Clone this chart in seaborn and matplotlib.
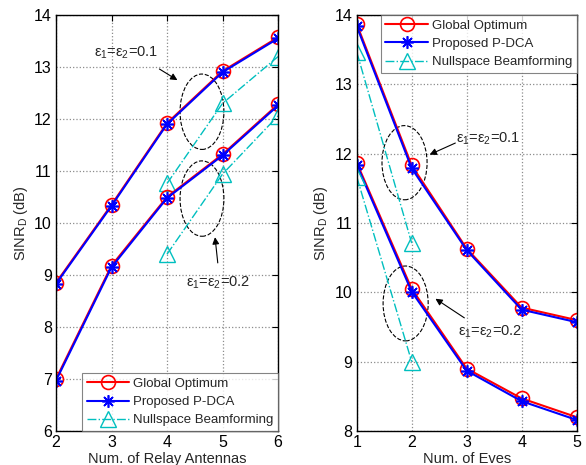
import numpy as np
import pandas as pd
import seaborn as sns
import matplotlib.pyplot as plt
from matplotlib.patches import Ellipse

# Left panel: SINR vs number of relay antennas
antennas = [2, 3, 4, 5, 6]
glob_a_01 = [8.85, 10.35, 11.92, 12.92, 13.57]
pdca_a_01 = [8.83, 10.33, 11.90, 12.90, 13.55]
glob_a_02 = [7.00, 9.18, 10.50, 11.32, 12.28]
pdca_a_02 = [6.97, 9.15, 10.48, 11.30, 12.26]
null_antennas = [4, 5, 6]
null_a_01 = [10.76, 12.30, 13.20]
null_a_02 = [9.40, 10.94, 12.06]

# Right panel: SINR vs number of eves
eves = [1, 2, 3, 4, 5]
glob_e_01 = [13.87, 11.83, 10.63, 9.78, 9.60]
pdca_e_01 = [13.84, 11.79, 10.61, 9.75, 9.57]
glob_e_02 = [11.87, 10.05, 8.90, 8.47, 8.20]
pdca_e_02 = [11.84, 10.01, 8.87, 8.43, 8.16]
null_eves = [1, 2]
null_e_01 = [13.47, 10.71]
null_e_02 = [11.67, 9.00]

sns.set_style("white")
plt.rcParams['font.family'] = ['Liberation Sans', 'DejaVu Sans']
plt.rcParams['mathtext.fontset'] = 'custom'
plt.rcParams['mathtext.rm'] = 'Liberation Sans'
plt.rcParams['mathtext.it'] = 'Liberation Sans'

CYAN = (0.0, 0.75, 0.75)
STAR = (8, 2, 0)

fig = plt.figure(figsize=(5.86, 4.65), dpi=100)
ax1 = fig.add_axes([0.0956, 0.0731, 0.3788, 0.8946])
ax2 = fig.add_axes([0.6087, 0.0731, 0.3753, 0.8946])


def draw(ax, x, g, p, nx, n, first):
    sns.lineplot(x=x, y=g, ax=ax, color='red', lw=1.5, marker='o', ms=10,
                 mfc='none', mec='red', mew=1.2,
                 label='Global Optimum' if first else None)
    sns.lineplot(x=x, y=p, ax=ax, color='blue', lw=1.5, marker=STAR, ms=9,
                 mec='blue', mew=1.2,
                 label='Proposed P-DCA' if first else None)
    sns.lineplot(x=nx, y=n, ax=ax, color=CYAN, lw=1.0, linestyle='-.',
                 marker='^', ms=11, mfc='none', mec=CYAN, mew=1.0,
                 label='Nullspace Beamforming' if first else None)


draw(ax1, antennas, glob_a_01, pdca_a_01, null_antennas, null_a_01, True)
draw(ax1, antennas, glob_a_02, pdca_a_02, null_antennas, null_a_02, False)
draw(ax2, eves, glob_e_01, pdca_e_01, null_eves, null_e_01, True)
draw(ax2, eves, glob_e_02, pdca_e_02, null_eves, null_e_02, False)

lbl01 = 'ε$_1$=ε$_2$=0.1'
lbl02 = 'ε$_1$=ε$_2$=0.2'

for ax, xl, xlim, ylim, yt in [
        (ax1, 'Num. of Relay Antennas', (2, 6), (6, 14), range(6, 15)),
        (ax2, 'Num. of Eves', (1, 5), (8, 14), range(8, 15))]:
    ax.set_xlim(*xlim)
    ax.set_ylim(*ylim)
    ax.set_xticks(range(xlim[0], xlim[1] + 1))
    ax.set_yticks(list(yt))
    ax.grid(True, color='0.55', linestyle=':', linewidth=0.9)
    ax.tick_params(direction='in', top=True, right=True, length=4,
                   labelsize=11.5, colors='black', pad=3)
    for s in ax.spines.values():
        s.set_color('black')
        s.set_linewidth(1.0)
    ax.set_xlabel(xl, fontsize=10.5, labelpad=1)
    ax.set_ylabel('SINR$_{\\rm D}$ (dB)', fontsize=10.5, labelpad=3)

# left annotations
ax1.add_patch(Ellipse((4.63, 12.14), 0.79, 1.45, fill=False, ls='--',
                      lw=0.8, ec='black'))
ax1.add_patch(Ellipse((4.63, 10.47), 0.79, 1.45, fill=False, ls='--',
                      lw=0.8, ec='black'))
ax1.text(3.26, 13.27, lbl01, ha='center', va='center', fontsize=10.5)
ax1.annotate('', xy=(4.23, 12.72), xytext=(3.82, 12.99),
             arrowprops=dict(arrowstyle='-|>', color='black', lw=0.8))
ax1.text(4.92, 8.85, lbl02, ha='center', va='center', fontsize=10.5)
ax1.annotate('', xy=(4.86, 9.78), xytext=(4.92, 9.18),
             arrowprops=dict(arrowstyle='-|>', color='black', lw=0.8))

# right annotations
ax2.add_patch(Ellipse((1.87, 11.87), 0.82, 1.07, fill=False, ls='--',
                      lw=0.8, ec='black'))
ax2.add_patch(Ellipse((1.89, 9.84), 0.82, 1.08, fill=False, ls='--',
                      lw=0.8, ec='black'))
ax2.text(3.39, 12.22, lbl01, ha='center', va='center', fontsize=10.5)
ax2.annotate('', xy=(2.28, 11.97), xytext=(2.84, 12.17),
             arrowprops=dict(arrowstyle='-|>', color='black', lw=0.8))
ax2.text(3.42, 9.43, lbl02, ha='center', va='center', fontsize=10.5)
ax2.annotate('', xy=(2.39, 9.93), xytext=(3.0, 9.61),
             arrowprops=dict(arrowstyle='-|>', color='black', lw=0.8))

for ax, loc in [(ax1, 'lower right'), (ax2, 'upper right')]:
    leg = ax.legend(loc=loc, fontsize=9.5, frameon=True, fancybox=False,
                    borderaxespad=0.0, handlelength=3.2, labelspacing=0.45,
                    borderpad=0.35, handletextpad=0.3)
    leg.get_frame().set_edgecolor('0.4')
    leg.get_frame().set_linewidth(0.8)

fig.savefig('out.png', dpi=100)
